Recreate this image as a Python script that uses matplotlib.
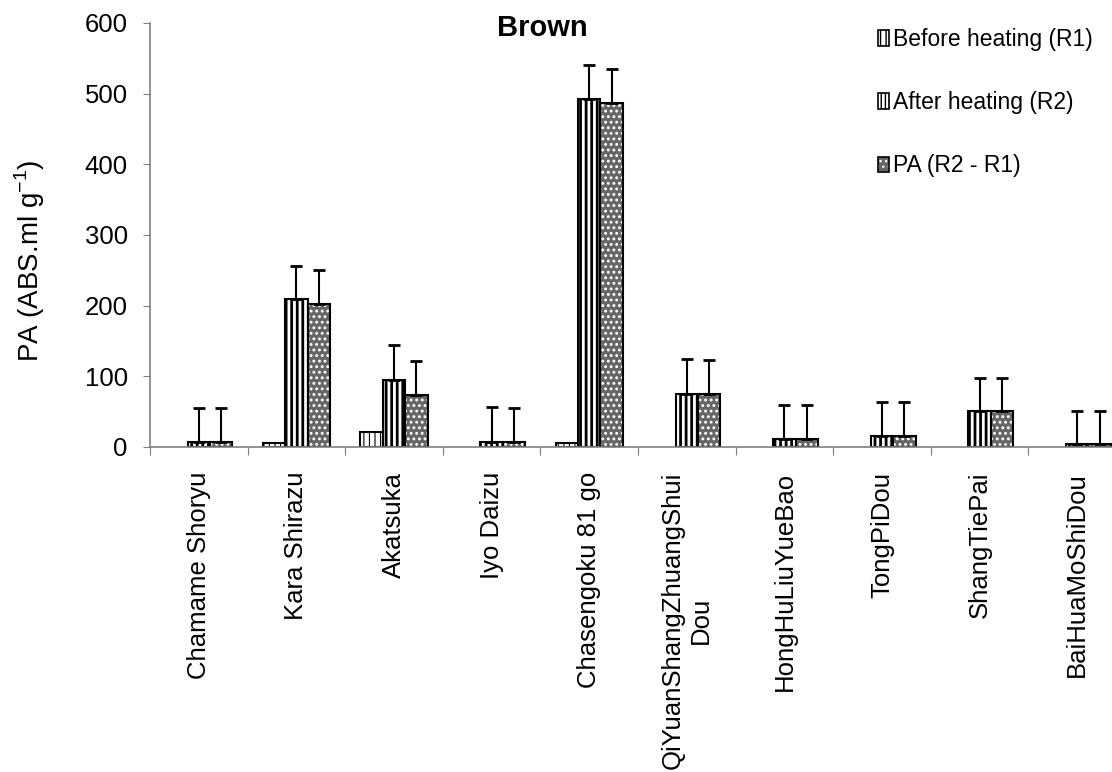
import numpy as np
import matplotlib
matplotlib.use("Agg")
import matplotlib.pyplot as plt
from matplotlib.patches import Patch
from matplotlib.legend_handler import HandlerTuple

plt.rcParams['font.family'] = ['Liberation Sans', 'DejaVu Sans']
plt.rcParams['mathtext.fontset'] = 'custom'
plt.rcParams['mathtext.rm'] = 'Liberation Sans'

cultivars = ["Chamame Shoryu", "Kara Shirazu", "Akatsuka", "Iyo Daizu",
             "Chasengoku 81 go", "QiYuanShangZhuangShui\nDou", "HongHuLiuYueBao",
             "TongPiDou", "ShangTiePai", "BaiHuaMoShiDou"]
before = [0, 6, 21, 0, 5, 0, 0, 0, 0, 0]
after = [7.5, 209, 95, 7.5, 493, 75.5, 11, 16, 51.5, 4]
after_err = [47.5, 47, 49, 48.5, 47, 48.5, 48, 47.5, 46.5, 47]
pa = [7.5, 203, 73.5, 7.5, 487.5, 75.5, 11, 16, 51.5, 4]
pa_err = [47.5, 48, 47.5, 47.5, 47.5, 47.5, 48, 47.5, 46.5, 47]
labels = ["Before heating (R1)", "After heating (R2)", "PA (R2 - R1)"]

W, H = 1112, 772
fig = plt.figure(figsize=(W / 100, H / 100), dpi=100)
ax = fig.add_axes([150 / W, 325 / H, 976 / W, 424 / H])

x = np.arange(len(cultivars)) + 0.5
w = 0.23
gray = '#808080'
dotgray = '#666666'

def set_hlw(bars, lw):
    for b in bars:
        if hasattr(b, 'set_hatch_linewidth'):
            b.set_hatch_linewidth(lw)

with plt.rc_context({'hatch.linewidth': 0.8}):
    b1 = ax.bar(x - w, before, w, facecolor='white', edgecolor='black',
                hatch='|||', linewidth=1.5)
set_hlw(b1, 0.8)
for b, v in zip(b1, before):
    if v == 0:
        b.set_visible(False)
with plt.rc_context({'hatch.linewidth': 2.0}):
    b2 = ax.bar(x, after, w, facecolor='white', edgecolor='black',
                hatch='|||', linewidth=1.5)
set_hlw(b2, 2.0)
with plt.rc_context({'hatch.linewidth': 1.3}):
    b3 = ax.bar(x + w, pa, w, facecolor=dotgray, edgecolor='white',
                hatch='...', linewidth=0)
set_hlw(b3, 1.3)
ax.bar(x + w, pa, w, fill=False, edgecolor='black', linewidth=1.5)

ax.errorbar(x, after, yerr=[np.zeros(len(x)), after_err], fmt='none',
            ecolor='black', elinewidth=1.5, capsize=4, capthick=2)
ax.errorbar(x + w, pa, yerr=[np.zeros(len(x)), pa_err], fmt='none',
            ecolor='black', elinewidth=1.5, capsize=4, capthick=2)

ax.set_xlim(0, len(cultivars))
ax.set_ylim(0, 600)
ax.set_yticks(range(0, 601, 100))
ax.set_xticks(np.arange(len(cultivars) + 1))
ax.set_xticklabels([])
ax.set_xticks(x, minor=True)
ax.set_xticklabels(cultivars, minor=True, rotation=90, fontsize=18.5,
                   ha='center', va='top', multialignment='center')
ax.tick_params(axis='x', which='minor', length=0, pad=18)
ax.tick_params(axis='x', which='major', length=6, color=gray, direction='out')
ax.tick_params(axis='y', length=5, color=gray, labelsize=18.5, pad=11)

for s in ['top', 'right']:
    ax.spines[s].set_visible(False)
for s in ['left', 'bottom']:
    ax.spines[s].set_color(gray)
    ax.spines[s].set_linewidth(1.2)

fig.text(30 / W, 1 - 261 / H, r"PA (ABS.ml g$^{\mathrm{-1}}$)", rotation=90,
         ha='center', va='center', fontsize=20)
fig.text(542 / W, 1 - 28 / H, "Brown", ha='center', va='center',
         fontsize=21, fontweight='bold')

h1 = Patch(facecolor='white', edgecolor='black', hatch='|||', linewidth=1.2)
h2 = Patch(facecolor='white', edgecolor='black', hatch='||||', linewidth=1.2)
h3a = Patch(facecolor=dotgray, edgecolor='white', hatch='...', linewidth=0)
h3b = Patch(fill=False, edgecolor='black', linewidth=1.2)
fig.legend([h1, h2, (h3a, h3b)], labels, loc='upper left',
           bbox_to_anchor=(878 / W, 1 - 28 / H), frameon=False, fontsize=16.5,
           handlelength=0.5, handleheight=0.65, handletextpad=0.15,
           labelspacing=1.75, borderaxespad=0, borderpad=0,
           handler_map={tuple: HandlerTuple(ndivide=1, pad=0)})

fig.savefig("out.png", dpi=100)
